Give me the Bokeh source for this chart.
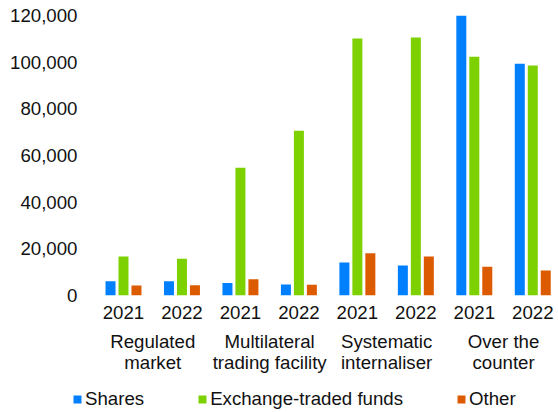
import numpy as np
from bokeh.plotting import figure
from bokeh.layouts import column
from bokeh.models import (Range1d, FixedTicker, NumeralTickFormatter, LinearAxis,
                          Legend, LegendItem, ColumnDataSource)
from bokeh.transform import dodge
from bokeh.embed import file_html
from bokeh.resources import INLINE

# ---- data ----
groups = ["Regulated\nmarket", "Multilateral\ntrading facility",
          "Systematic\ninternaliser", "Over the\ncounter"]
years = ["2021", "2022"]
series_names = ["Shares", "Exchange-traded funds", "Other"]
shares = [6100, 6100, 5400, 4700, 14100, 12900, 120100, 99300]
etfs = [16700, 15700, 54700, 70600, 110100, 110600, 102300, 98600]
other = [4300, 4400, 7000, 4600, 18100, 16700, 12300, 10700]
y_ticks = [0, 20000, 40000, 60000, 80000, 100000, 120000]

colors = ["#0080FF", "#7DD100", "#DC5A00"]
FONT = "Liberation Sans"
FS = "18.67px"
TXT = "#111111"

n_years = len(years)
n = len(groups) * n_years
xi = np.arange(n)
year_labels = [years[i % n_years] for i in range(n)]
group_pos = np.arange(len(groups)) * n_years + (n_years - 1) / 2
line1 = [g.split("\n")[0] for g in groups]
line2 = [g.split("\n")[1] for g in groups]

src = ColumnDataSource(dict(x=xi, shares=shares, etfs=etfs, other=other))

p = figure(width=558, height=380, output_backend="svg", toolbar_location=None,
           x_range=Range1d(-0.496, 7.44), y_range=Range1d(0, 120000),
           min_border_left=94, min_border_right=0, min_border_top=15,
           min_border_bottom=85, outline_line_color=None,
           background_fill_color=None, border_fill_color=None)
p.frame_align = False
p.grid.visible = False

bw = 0.171
off = 0.222
series_cols = ["shares", "etfs", "other"]
offsets = [-off, 0, off]
for col, o, c in zip(series_cols, offsets, colors):
    p.vbar(x=dodge("x", o), top=col, width=bw, source=src,
           fill_color=c, line_color=None)


def style(ax, standoff):
    ax.axis_line_color = None
    ax.major_tick_line_color = None
    ax.minor_tick_line_color = None
    ax.major_tick_out = 0
    ax.major_tick_in = 0
    ax.major_label_standoff = standoff
    ax.major_label_text_font = FONT
    ax.major_label_text_font_size = FS
    ax.major_label_text_color = TXT


# y axis
ya = p.yaxis[0]
ya.ticker = FixedTicker(ticks=y_ticks)
ya.formatter = NumeralTickFormatter(format="0,0")
style(ya, 17)

# year axis
xa = p.xaxis[0]
xa.ticker = FixedTicker(ticks=[float(v) for v in xi])
xa.major_label_overrides = {float(v): year_labels[i] for i, v in enumerate(xi)}
style(xa, 10)

# group axes (two lines)
g1 = LinearAxis(ticker=FixedTicker(ticks=[float(v) for v in group_pos]))
g1.major_label_overrides = {float(v): line1[i] for i, v in enumerate(group_pos)}
style(g1, 9)
p.add_layout(g1, "below")

g2 = LinearAxis(ticker=FixedTicker(ticks=[float(v) for v in group_pos]))
g2.major_label_overrides = {float(v): line2[i] for i, v in enumerate(group_pos)}
style(g2, -3)
p.add_layout(g2, "below")

# legend strip (hidden proxy renderers; legend draws their swatches)
lf = figure(width=558, height=32, output_backend="svg", toolbar_location=None,
            x_range=Range1d(0, 1), y_range=Range1d(0, 1),
            min_border_left=0, min_border_right=0, min_border_top=0,
            min_border_bottom=0, outline_line_color=None,
            background_fill_color=None, border_fill_color=None)
lf.frame_align = False
lf.axis.visible = False
lf.grid.visible = False
lr = [lf.vbar(x="x", top=col, width=bw, source=src,
              fill_color=c, line_color=None, visible=False)
      for col, c in zip(series_cols, colors)]
legend = Legend(items=[LegendItem(label=series_names[i], renderers=[lr[i]])
                       for i in range(len(series_names))],
                orientation="horizontal", location=(72, 2),
                glyph_width=10, glyph_height=10, label_standoff=3, spacing=53,
                padding=0, margin=0, border_line_color=None,
                background_fill_alpha=0, label_text_font=FONT,
                label_text_font_size=FS, label_text_color=TXT,
                inactive_fill_alpha=0)
lf.add_layout(legend)

layout = column(p, lf, spacing=0)
open("out.html", "w").write(file_html(layout, INLINE))
